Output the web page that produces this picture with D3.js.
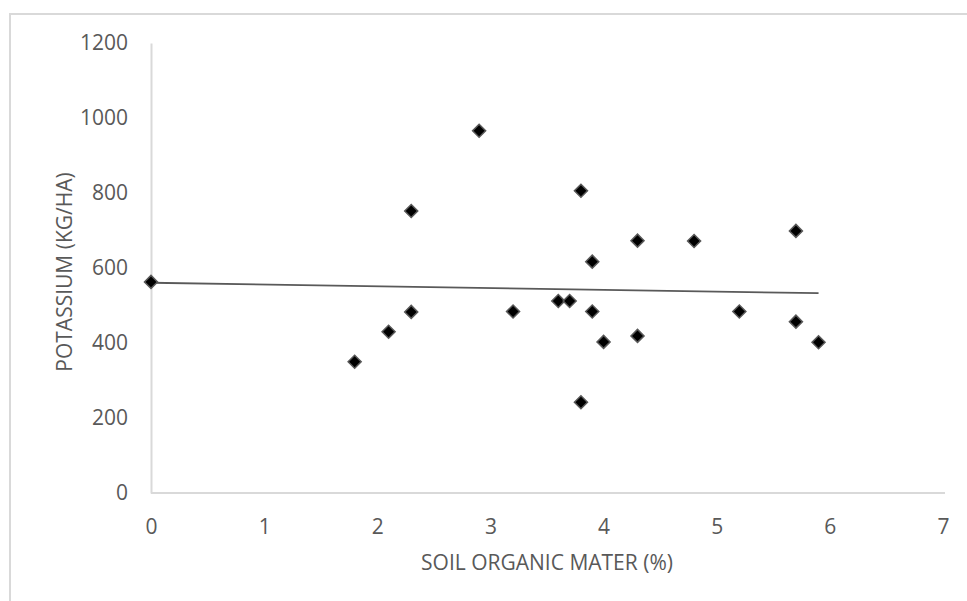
<!DOCTYPE html>
<html>
<head>
<meta charset="utf-8">
<script src="https://cdn.jsdelivr.net/npm/d3@7"></script>
<style>
  html, body { margin:0; padding:0; background:#fff; }
  svg text { font-family: "Open Sans", sans-serif; fill:#595959; }
</style>
</head>
<body>
<div class="canvas"></div>
<script>
// soil organic matter (%) vs potassium (kg/ha)
const organicMatter = [0, 1.8, 2.1, 2.3, 2.3, 2.9, 3.2, 3.6, 3.7, 3.8, 3.8, 3.9, 3.9, 4.0, 4.3, 4.3, 4.8, 5.2, 5.7, 5.7, 5.9]
const potassium     = [563, 350, 430, 483, 752, 966, 484, 512, 512, 806, 242, 617, 484, 403, 673, 419, 672, 484, 699, 457, 402]
const xTicks = [0, 1, 2, 3, 4, 5, 6, 7]
const yTicks = [0, 200, 400, 600, 800, 1000, 1200]
const xTitle = "SOIL ORGANIC MATER (%)"
const yTitle = "POTASSIUM (KG/HA)"

const dim = { width:967, height:601 }
const plot = { left:151, right:943, top:43, bottom:493 }

const svg = d3.select(".canvas").append("svg").attr("width",dim.width).attr("height",dim.height)

svg.append("rect")
   .attr("x",10).attr("y",14).attr("width",dim.width).attr("height",dim.height)
   .attr("fill","none").attr("stroke","#d9d9d9").attr("stroke-width",2)

const x = d3.scaleLinear().domain([0,7]).range([plot.left,plot.right])
const y = d3.scaleLinear().domain([0,1200]).range([plot.bottom,plot.top])

// axes (Excel style: light grey lines, no tick marks)
const xAxis = svg.append("g").attr("transform",`translate(0,${plot.bottom})`)
   .call(d3.axisBottom(x).tickValues(xTicks).tickSize(0).tickPadding(26).tickFormat(d3.format("d")))
const yAxis = svg.append("g").attr("transform",`translate(${plot.left},0)`)
   .call(d3.axisLeft(y).tickValues(yTicks).tickSize(0).tickPadding(23).tickFormat(d3.format("d")))

;[xAxis, yAxis].forEach(a => {
  a.select(".domain").attr("stroke","#d9d9d9").attr("stroke-width",2)
  a.selectAll("text").style("font-size","21px").attr("fill","#595959")
})
xAxis.select(".domain").attr("d",`M${plot.left},0H${plot.right+2}`)

// trendline from least squares fit
const data = organicMatter.map((v,i) => ({x:v, y:potassium[i]}))
const mx = d3.mean(data, d=>d.x), my = d3.mean(data, d=>d.y)
const slope = d3.sum(data, d=>(d.x-mx)*(d.y-my)) / d3.sum(data, d=>(d.x-mx)**2)
const icpt = my - slope*mx
const xr = d3.extent(organicMatter)
svg.append("line")
   .attr("x1",x(xr[0])).attr("y1",y(icpt+slope*xr[0]))
   .attr("x2",x(xr[1])).attr("y2",y(icpt+slope*xr[1]))
   .attr("stroke","#595959").attr("stroke-width",1.8)

const diamond = d3.symbol().type(d3.symbolSquare).size(85)
svg.append("g").selectAll("path").data(data).enter()
   .append("path")
   .attr("d",diamond)
   .attr("transform",d=>`translate(${x(d.x)},${y(d.y)}) rotate(45)`)
   .attr("fill","#000")
   .attr("stroke","#595959")
   .attr("stroke-width",1.5)

svg.append("text")
   .attr("x",(plot.left+plot.right)/2).attr("y",570)
   .attr("text-anchor","middle").style("font-size","21px")
   .text(xTitle)

svg.append("text")
   .attr("transform",`translate(72,272) rotate(-90)`)
   .attr("text-anchor","middle").style("font-size","21px")
   .text(yTitle)
</script>
</body>
</html>
